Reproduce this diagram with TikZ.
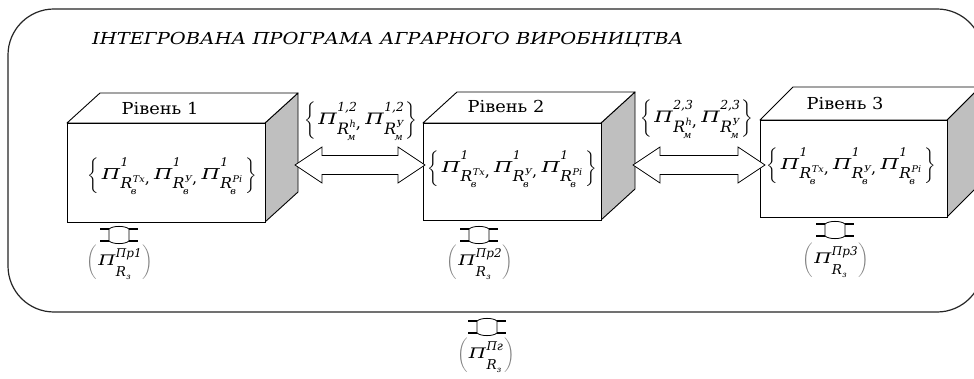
\documentclass[tikz,border=0pt]{standalone}
\usepackage{amsmath}
\usepackage{fontspec}
\setmainfont{DejaVu Serif}
\usetikzlibrary{calc}

% wide italic Pi-like letter used in all program symbols
\newcommand{\bigP}{{\fontsize{14.5}{14.5}\selectfont\itshape\scalebox{1.35}[1]{П}}}
% program symbol: #1 upper index, #2 index under R, #3 index over R
\newcommand{\pterm}[3]{%
  \bigP\kern0.5pt%
  \rlap{\raisebox{12pt}{\fontsize{11.5}{11.5}\selectfont\itshape #1}}%
  \raisebox{-9pt}{\fontsize{14.5}{14.5}\selectfont\itshape R}%
  \rlap{\kern-1.5pt\raisebox{-14.5pt}{\fontsize{9}{9}\selectfont\itshape #2}}%
  \kern0.5pt\raisebox{-3pt}{\fontsize{9}{9}\selectfont\itshape #3}}
% external program symbol: #1 upper index
\newcommand{\eterm}[1]{%
  \bigP\kern0.5pt%
  \rlap{\raisebox{-11pt}{\fontsize{13.5}{13.5}\selectfont\itshape R}\kern0.3pt\raisebox{-14pt}{\fontsize{8}{8}\selectfont\itshape з}}%
  \raisebox{8pt}{\fontsize{12}{12}\selectfont\itshape #1}}
\newcommand{\sep}{\raisebox{-4pt}{,}\kern4pt}
% one level program set inside a box
\newcommand{\lvlset}{$\left\{\mbox{\kern3pt\pterm{1}{в}{Тх}\sep\pterm{1}{в}{У}\sep\pterm{1}{в}{Рі}\kern3pt}\right\}$}
% inter-level set
\newcommand{\interset}[1]{$\left\{\mbox{\kern2pt\pterm{#1}{м}{h}\sep\pterm{#1}{м}{У}\kern2pt}\right\}$}
% external program in round brackets
\newcommand{\extset}[1]{$\color{gray}\left(\color{black}\mbox{\kern1pt\eterm{#1}\kern1pt}\color{gray}\right)$}

% cuboid: name, x1, y1, x2, y2 (front face), dx, dy (depth)
\newcommand{\cuboid}[7]{%
  \filldraw[sideface] (#4,#3) -- ({#4+#6},{#3+#7}) -- ({#4+#6},{#5+#7}) -- (#4,#5) -- cycle;
  \filldraw[topface] (#2,#3) -- ({#2+#6},{#3+#7}) -- ({#4+#6},{#3+#7}) -- (#4,#3) -- cycle;
  \node[frontface, minimum width={(#4-#2)*1pt}, minimum height={(#5-#3)*1pt}]
    (#1) at ({(#2+#4)/2},{(#3+#5)/2}) {};
}

% horizontal double block arrow between two named tips
\newcommand{\hlink}[2]{%
  \draw[blockarrow] let \p1=(#1), \p2=(#2) in
    (\p1) -- (\x1+27pt,\y1+18pt) -- (\x1+27pt,\y1+9.5pt) -- (\x2-27pt,\y1+9.5pt)
    -- (\x2-27pt,\y1+18pt) -- (\x2,\y1) -- (\x2-27pt,\y1-18pt) -- (\x2-27pt,\y1-9.5pt)
    -- (\x1+27pt,\y1-9.5pt) -- (\x1+27pt,\y1-18pt) -- cycle;
}

% small vertical link symbol centred on a named coordinate
\newcommand{\vlink}[1]{%
  \draw[linkthin] let \p1=(#1) in
    (\x1-10pt,\y1+6pt) .. controls (\x1-6pt,\y1+9.5pt) and (\x1+6pt,\y1+9.5pt) .. (\x1+10pt,\y1+6pt)
    (\x1-10pt,\y1-6pt) .. controls (\x1-6pt,\y1-9.5pt) and (\x1+6pt,\y1-9.5pt) .. (\x1+10pt,\y1-6pt)
    (\x1-10pt,\y1+6pt) -- (\x1-10pt,\y1-6pt)
    (\x1+10pt,\y1+6pt) -- (\x1+10pt,\y1-6pt);
  \draw[linkthick] let \p1=(#1) in
    (\x1-19pt,\y1+6pt) -- (\x1-10pt,\y1+6pt)
    (\x1+10pt,\y1+6pt) -- (\x1+19pt,\y1+6pt)
    (\x1-19pt,\y1-6pt) -- (\x1-10pt,\y1-6pt)
    (\x1+10pt,\y1-6pt) -- (\x1+19pt,\y1-6pt);
}

\begin{document}
\begin{tikzpicture}[x=1pt,y=-1pt,
  frame/.style={draw=black!85, line width=1.2pt, rounded corners=46pt},
  sideface/.style={fill=black!25, draw=black, line width=0.9pt, line join=round},
  topface/.style={fill=white, draw=black, line width=0.9pt, line join=round},
  frontface/.style={draw=black, fill=white, line width=0.9pt, inner sep=0pt},
  blockarrow/.style={draw=black, fill=white, line width=0.8pt, line join=miter},
  linkthin/.style={draw=black, line width=0.8pt},
  linkthick/.style={draw=black, line width=2pt},
  levelname/.style={font=\fontsize{16.5}{20}\selectfont, inner sep=0pt},
  mathlabel/.style={font=\fontsize{15}{18}\selectfont, inner sep=0pt},
  title/.style={font=\fontsize{16.5}{20}\selectfont\itshape, inner sep=0pt, anchor=west}
]
\useasboundingbox (0,0) rectangle (974,379);
\fill[white] (0,0) rectangle (974,379);

% outer frame of the integrated programme
\draw[frame] (8,9) rectangle (983,312);
\node[title] (ttl) at (92,40) {\scalebox{1.177}[1]{ІНТЕГРОВАНА ПРОГРАМА АГРАРНОГО ВИРОБНИЦТВА}};

% three levels
\cuboid{f1}{67}{123}{265}{222}{33}{-30}
\cuboid{f2}{423}{123}{601}{220}{34}{-31}
\cuboid{f3}{760}{120}{947}{217}{33}{-33}

\node[levelname] (n1) at (160,108) {\scalebox{1.08}[1]{Рівень 1}};
\node[levelname] (n2) at (506,106) {\scalebox{1.08}[1]{Рівень 2}};
\node[levelname] (n3) at (845,103) {\scalebox{1.08}[1]{Рівень 3}};

\node[mathlabel] (s1) at (172,176) {\scalebox{1.07}[1.03]{\lvlset}};
\node[mathlabel] (s2) at (512,169) {\scalebox{1.07}[1.03]{\lvlset}};
\node[mathlabel] (s3) at (851,166) {\scalebox{1.07}[1.03]{\lvlset}};

% links between levels
\coordinate (a1s) at (295,165);
\coordinate (a1e) at (425,165);
\coordinate (a2s) at (633,165);
\coordinate (a2e) at (765,165);
\hlink{a1s}{a1e}
\hlink{a2s}{a2e}

\node[mathlabel] (m12) at (361,121) {\scalebox{1.08}{\interset{1,2}}};
\node[mathlabel] (m23) at (697,119) {\scalebox{1.08}{\interset{2,3}}};

% external programmes of each level
\coordinate (v1) at (119,235);
\coordinate (v2) at (479,235);
\coordinate (v3) at (835,230);
\coordinate (v0) at (487,327);
\vlink{v1}
\vlink{v2}
\vlink{v3}
\vlink{v0}

\node[mathlabel] (e1) at (120,262) {\extset{Пр1}};
\node[mathlabel] (e2) at (480,262) {\extset{Пр2}};
\node[mathlabel] (e3) at (836,260) {\extset{Пр3}};
\node[mathlabel] (e0) at (486,355) {\extset{Пг}};
\end{tikzpicture}
\end{document}
